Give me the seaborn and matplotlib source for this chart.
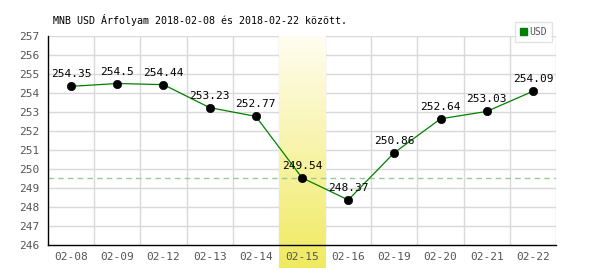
import matplotlib
matplotlib.use("Agg")
import matplotlib.pyplot as plt
import seaborn as sns
import numpy as np
import pandas as pd

dates = ["02-08", "02-09", "02-12", "02-13", "02-14", "02-15", "02-16", "02-19", "02-20", "02-21", "02-22"]
values = [254.35, 254.5, 254.44, 253.23, 252.77, 249.54, 248.37, 250.86, 252.64, 253.03, 254.09]
highlight = "02-15"
ref_value = 249.54
title = "MNB USD Árfolyam 2018-02-08 és 2018-02-22 között."
series = "USD"

sns.set_theme(style="white")
plt.rcParams['font.family'] = ['DejaVu Sans Mono', 'DejaVu Sans']

df = pd.DataFrame({"pos": np.arange(len(dates)), "value": values, "date": dates})

fig = plt.figure(figsize=(6, 2.7), dpi=100)
ax = fig.add_axes([48/600, 1-245/270, (556-48)/600, (245-36)/270])

# grid
for y in range(247, 258):
    ax.axhline(y, color="#d9d9d9", lw=1, zorder=0)
for i in range(1, len(dates)+1):
    ax.axvline(i-0.5, color="#d9d9d9", lw=1, zorder=0)

# highlight band with gradient (light at top, stronger yellow at bottom)
hi = dates.index(highlight)
grad = np.linspace(0, 1, 256).reshape(-1, 1)
cmap = matplotlib.colors.LinearSegmentedColormap.from_list("y", ["#fffdf0", "#f0ea60"])
ybot = 246 - (268-245)/19.0
ax.imshow(grad, extent=(hi-0.5, hi+0.5, ybot, 257), aspect="auto", cmap=cmap,
          origin="upper", zorder=0.5, clip_on=False)
ax.set_ylim(246, 257)
ax.set_xlim(-0.5, len(dates)-0.5)

ax.axhline(ref_value, color="#9dc89d", lw=1, ls=(0, (4, 3)), zorder=1)

sns.lineplot(data=df, x="pos", y="value", ax=ax, color="#008000", lw=0.9, zorder=2, legend=False)
sns.scatterplot(data=df, x="pos", y="value", ax=ax, color="black", s=36, edgecolor="black", zorder=3, legend=False)

for p, v in zip(df["pos"], values):
    ax.annotate(f"{v:g}", (p, v), xytext=(0, 5), textcoords="offset points",
                ha="center", va="bottom", fontsize=8, color="black", zorder=4)

ax.set_xticks(df["pos"])
ax.set_xticklabels(dates)
ax.set_yticks(range(246, 258))
ax.tick_params(axis="both", length=0, labelsize=8, colors="#555555")
ax.tick_params(axis="x", pad=5)
ax.tick_params(axis="y", pad=6)
ax.set_xlabel("")
ax.set_ylabel("")
for s in ["top", "right"]:
    ax.spines[s].set_visible(False)
for s in ["left", "bottom"]:
    ax.spines[s].set_color("black")
    ax.spines[s].set_linewidth(1)
    ax.spines[s].set_zorder(5)

fig.text(53/600, 1-20/270, title, fontsize=7.2, color="black", ha="left", va="center")

# legend box
lg = ax.legend(handles=[matplotlib.patches.Patch(color="#008000", label=series)],
               loc="upper left", bbox_to_anchor=(510/600, 1-17/270), bbox_transform=fig.transFigure,
               fontsize=7, frameon=True, handlelength=0.7, handleheight=0.7, handletextpad=0.3,
               borderpad=0.5, fancybox=False, edgecolor="#dddddd")
for t in lg.get_texts():
    t.set_color("#555555")

fig.savefig("out.png", dpi=100)
